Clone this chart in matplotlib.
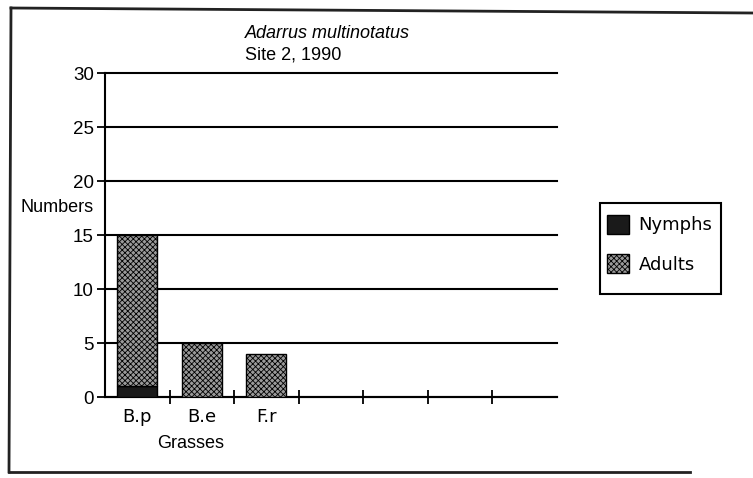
import numpy as np
import matplotlib
matplotlib.use('Agg')
import matplotlib.pyplot as plt
from matplotlib.patches import Patch, Rectangle
from matplotlib.lines import Line2D

plt.rcParams['font.family'] = ['Liberation Sans', 'DejaVu Sans']
plt.rcParams['hatch.linewidth'] = 0.6

# data
grasses = ['B.p', 'B.e', 'F.r', '', '', '', '']
nymphs = [1, 0, 0, 0, 0, 0, 0]
adults = [14, 5, 4, 0, 0, 0, 0]
yticks = [0, 5, 10, 15, 20, 25, 30]

W, H = 753, 478
fig = plt.figure(figsize=(W / 100, H / 100), dpi=100)
ax = fig.add_axes([105 / W, (H - 397) / H, 452 / W, 324 / H])

x = np.arange(len(grasses))
ax.set_axisbelow(True)
ax.yaxis.grid(True, color='black', linewidth=1.5)
for gl in ax.get_ygridlines():
    gl.set_clip_on(False)
ax.bar(x, nymphs, width=0.62, color='#1a1a1a', edgecolor='black', linewidth=1, zorder=3)
ax.bar(x, adults, width=0.62, bottom=nymphs, color='#9a9a9a', edgecolor='black',
       hatch='xxxxxx', linewidth=1, zorder=3)

ax.set_xlim(-0.5, len(grasses) - 0.5)
ax.set_ylim(0, 30)
ax.set_yticks(yticks)
ax.set_yticklabels([str(v) for v in yticks], fontsize=13.5)
ax.set_xticks(x[:-1] + 0.5)
ax.set_xticklabels([])
ax.set_xticks(x, minor=True)
ax.set_xticklabels(grasses, minor=True, fontsize=13, family=['DejaVu Sans'])
ax.tick_params(axis='x', which='major', direction='inout', length=10, width=1.3)
ax.tick_params(axis='x', which='minor', length=0, pad=8)
ax.tick_params(axis='y', direction='out', length=6, width=1.3, pad=2)
for s in ['top', 'right']:
    ax.spines[s].set_visible(False)
for s in ['left', 'bottom']:
    ax.spines[s].set_linewidth(1.5)

# titles and labels
fig.text(245 / W, 1 - 38 / H, 'Adarrus multinotatus', style='italic', fontsize=13,
         va='baseline', ha='left')
fig.text(245 / W, 1 - 59 / H, 'Site 2, 1990', fontsize=13, va='baseline', ha='left')
fig.text(20 / W, 1 - 212 / H, 'Numbers', fontsize=13, va='baseline', ha='left')
fig.text(157 / W, 1 - 448 / H, 'Grasses', fontsize=13, va='baseline', ha='left')

# legend (box drawn separately to match its padding)
handles = [Patch(facecolor='#1a1a1a', edgecolor='black', label='Nymphs'),
           Patch(facecolor='#9a9a9a', edgecolor='black', hatch='xxxxxx', label='Adults')]
leg = fig.legend(handles=handles, loc='upper left', bbox_to_anchor=(607 / W, 1 - 215 / H),
                 frameon=False, prop={'family': ['DejaVu Sans'], 'size': 13},
                 handlelength=1.2, handleheight=1.2, labelspacing=1.1, borderpad=0,
                 handletextpad=0.55, borderaxespad=0)
fig.add_artist(Rectangle((600 / W, 1 - 294 / H), 121 / W, 91 / H, transform=fig.transFigure,
                         fill=False, edgecolor='black', linewidth=1.5))

# outer frame (open at the right, as in the scan)
for xs, ys in [([11, 753], [8, 13]), ([11, 9], [8, 472]), ([9, 690], [472, 472])]:
    fig.add_artist(Line2D([v / W for v in xs], [1 - v / H for v in ys],
                          transform=fig.transFigure, color='#222222', linewidth=2))

fig.savefig('out.png', dpi=100)
